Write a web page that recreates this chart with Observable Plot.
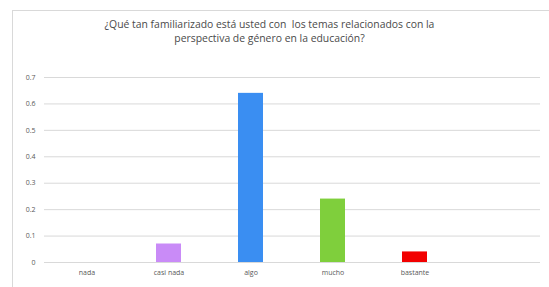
<!DOCTYPE html>
<html>
<head>
<meta charset="utf-8">
<script src="https://cdn.jsdelivr.net/npm/d3@7"></script>
<script src="https://cdn.jsdelivr.net/npm/@observablehq/plot@0.6"></script>
<style>
  html, body { margin: 0; padding: 0; background: #fff; width: 549px; height: 287px; overflow: hidden; }
  #frame { position: absolute; left: 12px; top: 10px; width: 545px; height: 290px; border: 1px solid #d9d9d9; box-sizing: border-box; }
  #title { position: absolute; left: 12px; width: 515px; top: 17px; text-align: center; font-family: "Open Sans", "Liberation Sans", sans-serif; font-size: 10.4px; line-height: 14px; color: #4a4a4a; }
  #chart { position: absolute; left: 0; top: 50px; }
</style>
</head>
<body>
<div id="frame"></div>
<div id="title">¿Qué tan familiarizado está usted con &nbsp;los temas relacionados con la<br>perspectiva de género en la educación?</div>
<div id="chart"></div>
<script>
const categories = ["nada", "casi nada", "algo", "mucho", "bastante", " "];
const values = [0, 0.07, 0.64, 0.24, 0.04];
const colors = ["#a6a6a6", "#c98bf7", "#3a8ef2", "#7fcf3c", "#f20000"];
const yTicks = [0, 0.1, 0.2, 0.3, 0.4, 0.5, 0.6, 0.7];

const data = values.map((v, i) => ({cat: categories[i], value: v, color: colors[i]}));

const plot = Plot.plot({
  width: 549,
  height: 232,
  marginLeft: 44,
  marginRight: 9,
  marginTop: 27,
  marginBottom: 20,
  style: {fontFamily: "'Open Sans', 'Liberation Sans', sans-serif", fontSize: "7px", color: "#595959", background: "transparent"},
  x: {domain: categories, paddingInner: 0.69, paddingOuter: 0.345, label: null, tickSize: 0, tickPadding: 8},
  y: {domain: [0, 0.7], label: null},
  marks: [
    Plot.ruleY(yTicks, {stroke: "#d9d9d9", strokeWidth: 1}),
    Plot.barY(data, {x: "cat", y: "value", fill: "color"}),
    Plot.axisX({tickSize: 0, tickPadding: 8, fontSize: 7, fill: "#595959"}),
    Plot.axisY({ticks: yTicks, tickSize: 0, tickPadding: 9, tickFormat: d => d === 0 ? "0" : d.toFixed(1), fontSize: 7, fill: "#595959"})
  ]
});
document.getElementById("chart").appendChild(plot);
</script>
</body>
</html>
